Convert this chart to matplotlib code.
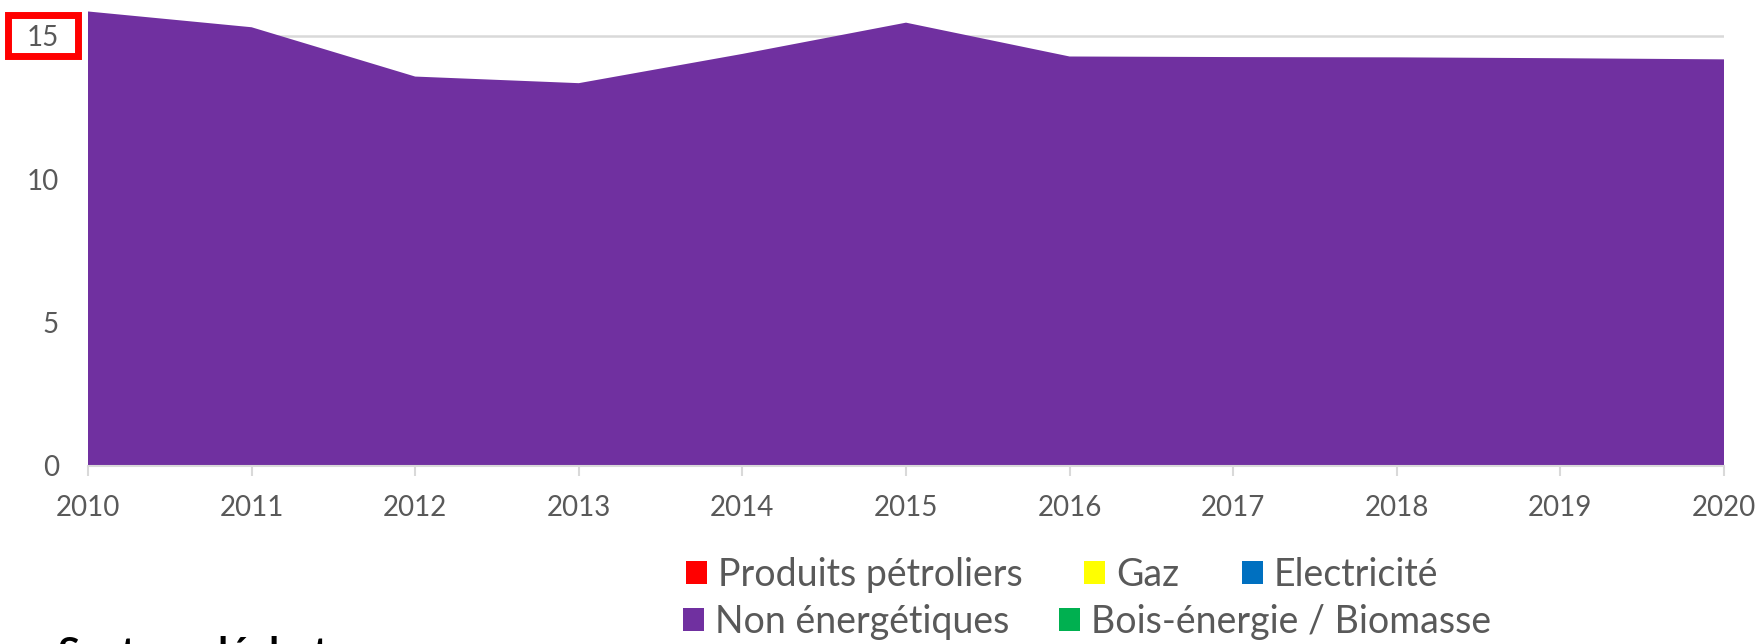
import matplotlib
matplotlib.use("Agg")
import matplotlib.pyplot as plt
from matplotlib.patches import Rectangle

# values (Secteur déchets)
years = [2010, 2011, 2012, 2013, 2014, 2015, 2016, 2017, 2018, 2019, 2020]
produits_petroliers = [0, 0, 0, 0, 0, 0, 0, 0, 0, 0, 0]
gaz = [0, 0, 0, 0, 0, 0, 0, 0, 0, 0, 0]
electricite = [0, 0, 0, 0, 0, 0, 0, 0, 0, 0, 0]
non_energetiques = [15.85, 15.30, 13.58, 13.35, 14.37, 15.46, 14.28, 14.26, 14.25, 14.22, 14.18]
bois_energie = [0, 0, 0, 0, 0, 0, 0, 0, 0, 0, 0]

labels = ["Produits pétroliers", "Gaz", "Electricité",
          "Non énergétiques", "Bois-énergie / Biomasse"]
colors = ["#FF0000", "#FFFF00", "#0070C0", "#7030A0", "#00B050"]
y_ticks = [0, 5, 10, 15]

plt.rcParams["font.family"] = ["Lato", "DejaVu Sans"]
TXT = "#595959"
GRID = "#D9D9D9"
W, H = 1762, 644

fig = plt.figure(figsize=(17.62, 6.44), dpi=100)
ax = fig.add_axes([88 / W, 178 / H, (1724 - 88) / W, 466 / H])

ax.stackplot(years, produits_petroliers, gaz, electricite, non_energetiques,
             bois_energie, colors=colors, labels=labels, linewidth=0, zorder=2)

ax.set_xlim(years[0], years[-1])
ax.set_ylim(0, 16.25)
ax.set_xticks(years)
ax.set_yticks(y_ticks)
ax.yaxis.grid(True, color=GRID, linewidth=1.8, zorder=0)
ax.set_axisbelow(True)

for s in ["top", "right", "left"]:
    ax.spines[s].set_visible(False)
ax.spines["bottom"].set_color(GRID)
ax.spines["bottom"].set_linewidth(1.5)
ax.spines["bottom"].set_zorder(3)

ax.tick_params(axis="x", colors=GRID, length=7, width=1.5, pad=14,
               labelcolor=TXT, labelsize=20)
ax.tick_params(axis="y", length=0, pad=21, labelcolor=TXT, labelsize=20)

# red highlight box around the "15" tick label
fig.add_artist(Rectangle((7.5 / W, 1 - 55.5 / H), 70 / W, 40 / H,
                         transform=fig.transFigure, fill=False,
                         edgecolor="#FF0000", linewidth=5))

handles, labs = ax.get_legend_handles_labels()
leg_kw = dict(frameon=False, fontsize=27, handlelength=0.56, handleheight=0.56,
              handletextpad=0.3, borderpad=0, labelcolor=TXT)
leg1 = fig.legend(handles[:3], labs[:3], ncol=3, loc="center",
                  bbox_to_anchor=(1062 / W, 1 - 575 / H),
                  columnspacing=1.65, **leg_kw)
leg2 = fig.legend(handles[3:], labs[3:], ncol=2, loc="center",
                  bbox_to_anchor=(1087 / W, 1 - 622 / H),
                  columnspacing=1.3, **leg_kw)

fig.text(58 / W, 1 - 636 / H, "Secteur déchets", fontsize=29,
         fontweight="bold", color="black", va="top", ha="left")

plt.savefig("out.png", dpi=100)
plt.close()
